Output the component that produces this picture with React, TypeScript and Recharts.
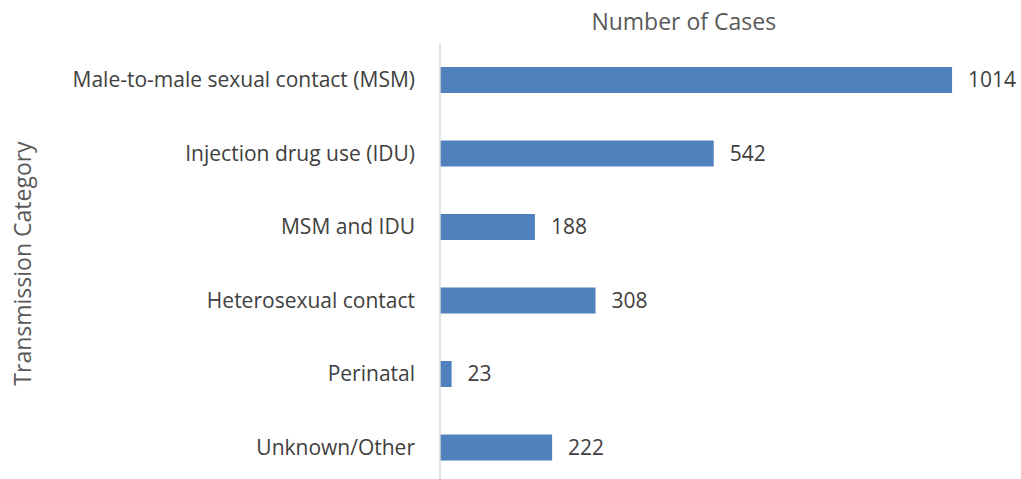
import React from "react";
import { BarChart, Bar, XAxis, YAxis, LabelList, Label } from "recharts";

const categories = [
  "Male-to-male sexual contact (MSM)",
  "Injection drug use (IDU)",
  "MSM and IDU",
  "Heterosexual contact",
  "Perinatal",
  "Unknown/Other",
];
const cases = [1014, 542, 188, 308, 23, 222];
const xTitle = "Number of Cases";
const yTitle = "Transmission Category";

const data = categories.map((c, i) => ({ category: c, cases: cases[i] }));

const FONT = "'Open Sans', sans-serif";

export default function App() {
  return (
    <div style={{ position: "absolute", left: 0, top: 0, width: 1021, height: 479, overflow: "hidden", background: "#fff" }}>
      <BarChart
        width={1021}
        height={490}
        data={data}
        layout="vertical"
        margin={{ top: 0, right: 25.5, bottom: 6, left: 0 }}
        barSize={26}
      >
        <XAxis
          type="number"
          orientation="top"
          domain={[0, 1100]}
          height={43}
          tick={false}
          tickLine={false}
          axisLine={false}
        >
          <Label
            value={xTitle}
            position="center"
            dx={-34}
            style={{ fontFamily: FONT, fontSize: 23, fill: "#595959" }}
          />
        </XAxis>
        <YAxis
          type="category"
          dataKey="category"
          width={440}
          tickSize={0}
          tickMargin={25}
          tickLine={false}
          axisLine={{ stroke: "#d9d9d9", strokeWidth: 1.5 }}
          tick={{ fontFamily: FONT, fontSize: 21, fill: "#404040" }}
          interval={0}
        >
          <Label
            value={yTitle}
            position="center"
            angle={-90}
            dx={-197}
            style={{ fontFamily: FONT, fontSize: 23, fill: "#595959", textAnchor: "middle" }}
          />
        </YAxis>
        <Bar dataKey="cases" fill="#4F81BD" isAnimationActive={false}>
          <LabelList
            dataKey="cases"
            position="right"
            offset={16}
            style={{ fontFamily: FONT, fontSize: 21, fill: "#404040" }}
          />
        </Bar>
      </BarChart>
    </div>
  );
}
